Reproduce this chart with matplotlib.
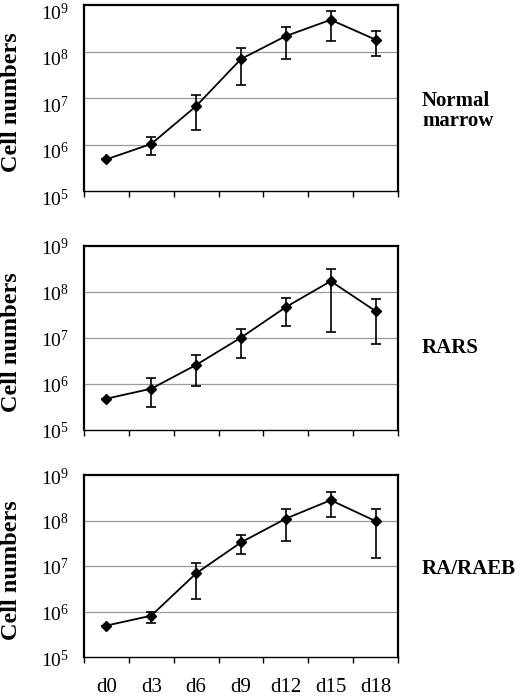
import matplotlib
matplotlib.use("Agg")
import matplotlib.pyplot as plt
from matplotlib.ticker import FixedLocator
import matplotlib.transforms as mtransforms
import numpy as np

plt.rcParams['font.family'] = ['Liberation Serif', 'DejaVu Serif']
plt.rcParams['mathtext.fontset'] = 'custom'
plt.rcParams['mathtext.rm'] = 'Liberation Serif'

days = ["d0", "d3", "d6", "d9", "d12", "d15", "d18"]
panel_labels = ["Normal\nmarrow", "RARS", "RA/RAEB"]

normal_mean = [4.8e5, 1.03e6, 6.7e6, 6.9e7, 2.15e8, 4.8e8, 1.8e8]
normal_low = [4.8e5, 6.0e5, 2.05e6, 1.87e7, 6.9e7, 1.7e8, 8.0e7]
normal_high = [4.8e5, 1.47e6, 1.15e7, 1.17e8, 3.3e8, 7.5e8, 2.8e8]

rars_mean = [4.8e5, 7.9e5, 2.6e6, 1.02e7, 4.7e7, 1.72e8, 3.85e7]
rars_low = [4.8e5, 3.2e5, 9.0e5, 3.7e6, 1.82e7, 1.35e7, 7.3e6]
rars_high = [4.8e5, 1.32e6, 4.2e6, 1.6e7, 7.5e7, 3.1e8, 7.1e7]

raraeb_mean = [4.9e5, 8.1e5, 6.9e6, 3.3e7, 1.1e8, 2.8e8, 9.7e7]
raraeb_low = [4.9e5, 5.5e5, 1.9e6, 1.87e7, 3.6e7, 1.2e8, 1.5e7]
raraeb_high = [4.9e5, 1.0e6, 1.15e7, 4.8e7, 1.8e8, 4.2e8, 1.76e8]

series = [
    (normal_mean, normal_low, normal_high),
    (rars_mean, rars_low, rars_high),
    (raraeb_mean, raraeb_low, raraeb_high),
]

W, H = 520, 699
fig = plt.figure(figsize=(W / 100, H / 100), dpi=100)

# (top_px, bottom_px) of each panel
panels_px = [(5, 191), (246, 430), (475, 657)]
label_y_px = [111, 348, 569]
ytick_shift_px = [6, 1, 1]
left_px, right_px = 84, 398

x = np.arange(len(days))
for i, ((top, bot), (m, lo, hi)) in enumerate(zip(panels_px, series)):
    ax = fig.add_axes([left_px / W, 1 - bot / H, (right_px - left_px) / W, (bot - top) / H])
    ax.set_yscale('log')
    ax.set_ylim(1e5, 1e9)
    ax.set_xlim(-0.5, len(days) - 0.5)
    m = np.array(m); lo = np.array(lo); hi = np.array(hi)
    ax.errorbar(x, m, yerr=[m - lo, hi - m], color='black', lw=1.3,
                marker='D', ms=5.5, capsize=3.5, elinewidth=1.2, capthick=1.2)
    ax.yaxis.set_major_locator(FixedLocator([1e5, 1e6, 1e7, 1e8, 1e9]))
    ax.yaxis.set_minor_locator(FixedLocator([]))
    ax.set_yticklabels([r'$\mathregular{10^{%d}}$' % k for k in range(5, 10)])
    ax.tick_params(axis='y', length=0, pad=11, labelsize=14)
    off = mtransforms.ScaledTranslation(0, -ytick_shift_px[i] / 100, fig.dpi_scale_trans)
    for lab in ax.get_yticklabels():
        lab.set_transform(lab.get_transform() + off)
    for yv in [1e6, 1e7, 1e8]:
        ax.axhline(yv, color='#9a9a9a', lw=0.9, zorder=0)
    ax.set_xticks(x)
    ax.xaxis.set_minor_locator(FixedLocator(np.arange(-0.5, len(days), 1.0)))
    ax.tick_params(axis='x', which='major', length=0)
    ax.tick_params(axis='x', which='minor', length=4, width=1.0, direction='out')
    if i == 2:
        ax.set_xticklabels(days, fontsize=15)
        ax.tick_params(axis='x', which='major', pad=15)
    else:
        ax.set_xticklabels([])
    for s in ['left', 'top', 'right']:
        ax.spines[s].set_linewidth(1.6)
    ax.spines['bottom'].set_linewidth(1.0)
    ax.set_ylabel('Cell numbers', fontsize=17.5, fontweight='bold')
    ax.yaxis.set_label_coords((22 - left_px) / (right_px - left_px), 0.48)
    fig.text(422 / W, 1 - label_y_px[i] / H, panel_labels[i], fontsize=15,
             fontweight='bold', ha='left', va='center', linespacing=1.05)

fig.savefig('out.png', dpi=100)
